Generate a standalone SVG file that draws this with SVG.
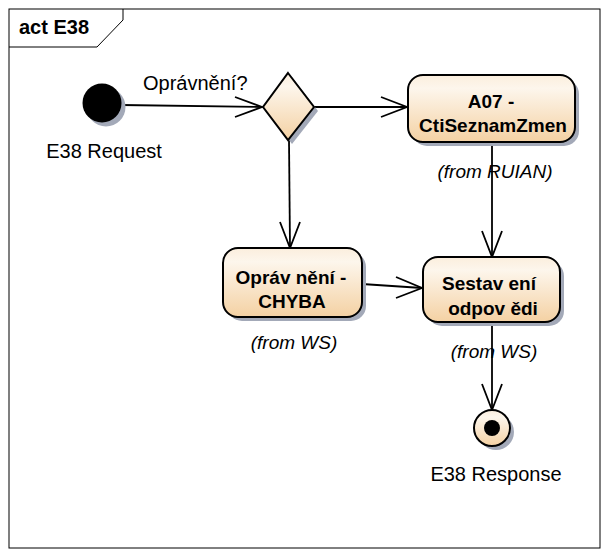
<svg xmlns="http://www.w3.org/2000/svg" width="608" height="556" viewBox="0 0 608 556">
<style>
.lbl{font-family:"Liberation Sans",Arial,sans-serif;font-size:20px;fill:#000}
.b{font-family:"Liberation Sans",Arial,sans-serif;font-size:19px;font-weight:bold;fill:#000;text-anchor:middle}
.it{font-family:"Liberation Sans",Arial,sans-serif;font-size:19px;font-style:italic;fill:#000;text-anchor:middle}
.node{fill:url(#g);stroke:#000;stroke-width:2}
.sh{fill:#a3a9b8}
.edge{stroke:#000;stroke-width:1.8;fill:none}
.ah{stroke:#000;stroke-width:1.8;fill:none;stroke-linejoin:miter}
</style>
<defs>
<linearGradient id="g" x1="0" y1="0" x2="0" y2="1">
<stop offset="0" stop-color="#fbeedd"/>
<stop offset="0.2" stop-color="#fdf6ec"/>
<stop offset="1" stop-color="#f4d1a3"/>
</linearGradient>
</defs>
<rect x="0" y="0" width="608" height="556" fill="#fff"/>
<g id="frame">
<rect x="9" y="9" width="591" height="539" fill="none" stroke="#000" stroke-width="1"/>
<path d="M9 47 H97 L123 20 V9" fill="none" stroke="#000" stroke-width="1"/>
<text x="19" y="34" style="font-family:'Liberation Sans',Arial,sans-serif;font-size:20px;font-weight:bold">act E38</text>
</g>
<g id="connectors">
<path class="edge" d="M121 105 L262 107"/>
<path class="ah" d="M235 97 L262 107 L235 117"/>
<path class="edge" d="M314 107 L407 107"/>
<path class="ah" d="M381 97 L407 107 L381 117"/>
<path class="edge" d="M289 140 L290 248"/>
<path class="ah" d="M280 222 L290 248 L300 222"/>
<path class="edge" d="M492 142 L492 257"/>
<path class="ah" d="M482 231 L492 257 L502 231"/>
<path class="edge" d="M362 284 L422 288"/>
<path class="ah" d="M396 277 L422 288 L396 298"/>
<path class="edge" d="M492 322 L492 410"/>
<path class="ah" d="M482 384 L492 410 L502 384"/>
<text class="lbl" x="143" y="90">Oprávnění?</text>
</g>
<g id="start">
<circle class="sh" cx="106" cy="107" r="19.5"/>
<circle cx="102" cy="103" r="19.5" fill="#000"/>
<text class="lbl" x="104" y="158" text-anchor="middle">E38 Request</text>
</g>
<g id="decision">
<path class="sh" d="M292 77 L318 111 L292 144 L267 111 Z"/>
<path class="node" d="M288 73 L314 107 L288 140 L263 107 Z"/>
</g>
<g id="a07">
<rect class="sh" x="412" y="79" width="167" height="67" rx="15"/>
<rect class="node" x="408" y="75" width="167" height="67" rx="15"/>
<text class="b" x="491" y="108">A07 -</text>
<text class="b" x="493" y="132">CtiSeznamZmen</text>
<text class="it" x="495" y="178">(from RUIAN)</text>
</g>
<g id="chyba">
<rect class="sh" x="227" y="252" width="139" height="69" rx="15"/>
<rect class="node" x="223" y="248" width="139" height="69" rx="15"/>
<text class="b" x="291" y="284">Opráv nění -</text>
<text class="b" x="292" y="308">CHYBA</text>
<text class="it" x="294" y="349">(from WS)</text>
</g>
<g id="sestaveni">
<rect class="sh" x="427" y="261" width="137" height="65" rx="15"/>
<rect class="node" x="423" y="257" width="137" height="65" rx="15"/>
<text class="b" x="489" y="290">Sestav ení</text>
<text class="b" x="493" y="315">odpov ědi</text>
<text class="it" x="494" y="358">(from WS)</text>
</g>
<g id="end">
<circle class="sh" cx="496" cy="432" r="18"/>
<circle class="node" cx="492" cy="428" r="18"/>
<circle cx="492" cy="428" r="8" fill="#000"/>
<text class="lbl" x="496" y="481" text-anchor="middle">E38 Response</text>
</g>
</svg>
